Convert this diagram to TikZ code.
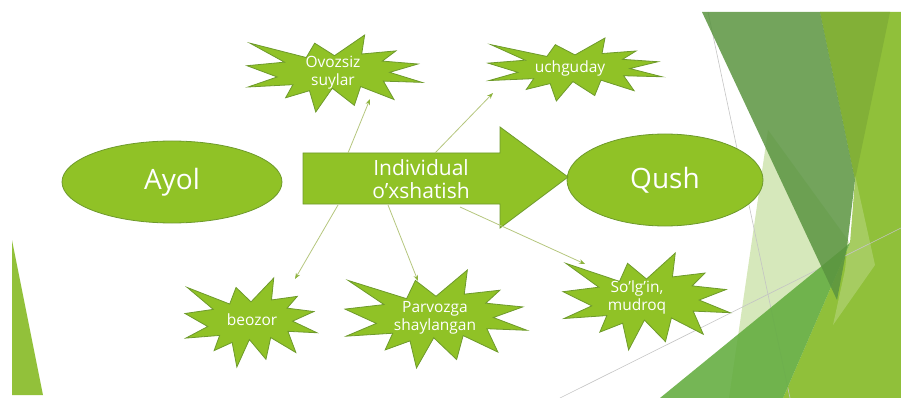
\documentclass[tikz,border=0pt]{standalone}
\usepackage{fontspec}
\setmainfont{Open Sans}
\usetikzlibrary{shapes.geometric,arrows.meta}
\definecolor{shapefill}{HTML}{90C226}
\definecolor{shapeline}{HTML}{6E9A2C}
\definecolor{connline}{HTML}{B5C67E}
\definecolor{conntip}{HTML}{8DB33E}
\definecolor{bgpale}{HTML}{D6E8BB}
\definecolor{bgdark}{HTML}{5A9440}
\definecolor{bglime}{HTML}{90C03A}
\definecolor{bgolive}{HTML}{82B037}
\definecolor{bgmid}{HTML}{62AC3E}
\definecolor{bgleft}{HTML}{92C13A}
\definecolor{thinline}{HTML}{C4C4C4}
\newcommand\sealshape[4]{%
  \pgfmathsetmacro\sealsx{#3/100}%
  \pgfmathsetmacro\sealsy{#4/100}%
  \begin{scope}[shift={(#1,#2)},x=\sealsx pt,y=-\sealsy pt]
    \draw[sealstyle] (50,26.85) -- (67.23,0) -- (65.53,24.65) -- (85.09,20.63)
      -- (77.32,33.87) -- (97.67,37.67) -- (81.51,48.50) -- (100,61.53)
      -- (77.95,59.92) -- (84.00,83.77) -- (64.91,66.93) -- (61.33,91.38)
      -- (48.76,69.14) -- (39.28,100) -- (35.72,72.35) -- (22.05,81.56)
      -- (26.24,64.52) -- (0.63,67.53) -- (17.23,54.51) -- (0,39.88)
      -- (21.42,35.26) -- (1.71,10.63) -- (33.85,29.26) -- (38.67,10.63) -- cycle;
  \end{scope}}
\begin{document}
\begin{tikzpicture}[x=1pt,y=-1pt,
  sealstyle/.style={fill=shapefill,draw=shapeline,line width=0.8pt,line join=miter},
  bubble/.style={ellipse,fill=shapefill,draw=shapeline,line width=0.8pt,text=white,
    font=\fontsize{28}{30}\selectfont,inner sep=0pt},
  sealtext/.style={text=white,font=\fontsize{15.5}{18}\selectfont,align=center,inner sep=0pt},
  arrowtext/.style={text=white,font=\fontsize{21}{22.5}\selectfont,align=center,inner sep=0pt},
  conn/.style={draw=connline,line width=0.8pt,-{Stealth[length=6pt,width=4.5pt,color=conntip]}}]
\useasboundingbox (0,0) rectangle (901,398);
% background facets
\fill[bgleft] (12,240) -- (12,395) -- (43,395) -- cycle;
\fill[bgpale] (768,130) -- (850,243) -- (783,398) -- (729,398) -- cycle;
\fill[bglime] (820,12) -- (901,12) -- (901,398) -- (783,398) -- (850,243) -- (855,180) -- cycle;
\fill[bgolive] (820,12) -- (890,12) -- (855,180) -- cycle;
\fill[white,opacity=0.2] (855,175) -- (875,265) -- (833,325) -- (845,270) -- cycle;
\draw[thinline,line width=0.6pt] (708,12) -- (790,398);
\draw[thinline,line width=0.6pt] (560,398) -- (901,228);
\fill[bgmid,opacity=0.88] (660,398) -- (850,243) -- (783,398) -- cycle;
\fill[bgdark,opacity=0.85] (702,12) -- (820,12) -- (855,180) -- (847,247) -- (837,300) -- cycle;
% main ellipses
\node[bubble,minimum width=220pt,minimum height=82pt] (ayol) at (172,182) {Ayol};
\node[bubble,minimum width=196pt,minimum height=92pt] (qush) at (665,180) {Qush};
% big arrow
\draw[fill=shapefill,draw=shapeline,line width=0.8pt]
  (303,153) -- (500,153) -- (500,127) -- (568,177) -- (500,228) -- (500,204) -- (303,204) -- cycle;
\node[arrowtext] (mid) at (421,179) {Individual\\o’xshatish};
% starbursts
\sealshape{247}{35}{175}{77}
\node[sealtext] (ovozsiz) at (333,73) {Ovozsiz\\suylar};
\sealshape{488}{38}{174}{63}
\node[sealtext] (uchguday) at (570,68) {uchguday};
\sealshape{185}{278}{132}{89}
\node[sealtext] (beozor) at (252,320) {beozor};
\sealshape{345}{270}{182}{98}
\node[sealtext] (parvoz) at (435,318) {Parvozga\\shaylangan};
\sealshape{563}{253}{167}{97}
\node[sealtext] (solgin) at (637,297) {So’lg’in,\\mudroq};
% connector ends
\coordinate (a1) at (348,153);
\coordinate (e1) at (370,99);
\coordinate (a2) at (435,153);
\coordinate (e2) at (493,93);
\coordinate (a3) at (338,205);
\coordinate (e3) at (295,279);
\coordinate (a4) at (388,205);
\coordinate (e4) at (418,281);
\coordinate (a5) at (460,207);
\coordinate (e5) at (585,264);
\draw[conn] (a1) -- (e1);
\draw[conn] (a2) -- (e2);
\draw[conn] (a3) -- (e3);
\draw[conn] (a4) -- (e4);
\draw[conn] (a5) -- (e5);
\end{tikzpicture}
\end{document}
